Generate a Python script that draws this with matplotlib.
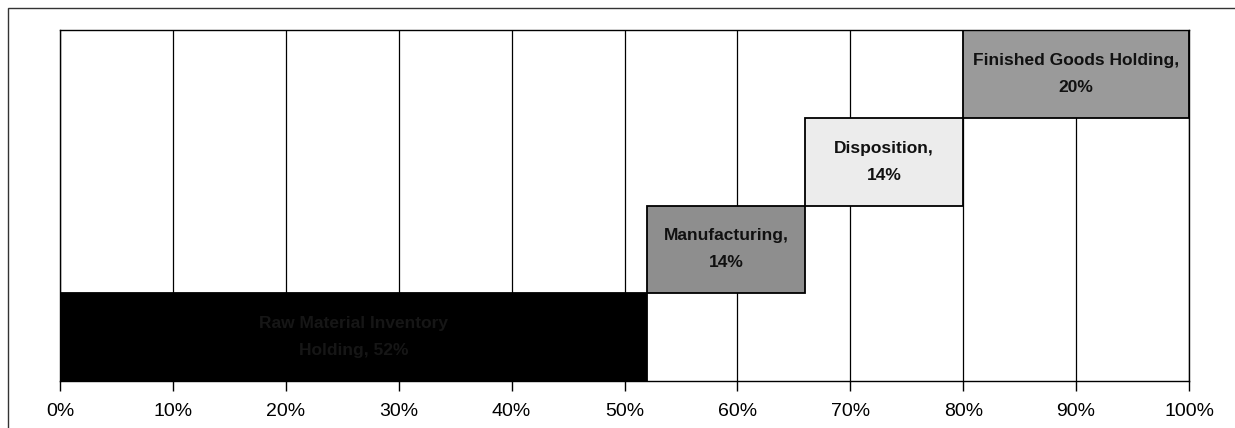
import numpy as np
import matplotlib
matplotlib.use("Agg")
import matplotlib.pyplot as plt
from matplotlib.patches import Rectangle
from matplotlib.ticker import FuncFormatter, MultipleLocator

# Share of total cycle time by stage
stages = ["Raw Material Inventory", "Manufacturing", "Disposition", "Finished Goods Holding"]
label_lines = ["Raw Material Inventory\nHolding, {}%", "Manufacturing,\n{}%",
               "Disposition,\n{}%", "Finished Goods Holding,\n{}%"]
shares = [52, 14, 14, 20]
bar_colors = ["#000000", "#8e8e8e", "#ececec", "#9a9a9a"]
text_colors = ["#161616", "#111111", "#111111", "#111111"]
tick_values = list(range(0, 101, 10))

plt.rcParams["font.family"] = ["Liberation Sans", "DejaVu Sans"]

fig = plt.figure(figsize=(12.35, 4.28), dpi=100)
ax = fig.add_axes([60 / 1235, 1 - 381 / 428, (1189 - 60) / 1235, (381 - 30) / 428])

starts = np.concatenate([[0], np.cumsum(shares)[:-1]])
rows = np.arange(len(stages))

# vertical gridlines behind bars
for v in tick_values:
    ax.axvline(v, color="black", lw=0.9, zorder=0)

ax.barh(rows, shares, left=starts, height=1.0, color=bar_colors,
        edgecolor="black", linewidth=1.3, zorder=2)

for r, s, w, fmt, tc in zip(rows, starts, shares, label_lines, text_colors):
    ax.text(s + w / 2, r, fmt.format(w), ha="center", va="center",
            fontsize=12.5, fontweight="bold", color=tc, linespacing=2.0, zorder=3)

ax.set_xlim(0, 100)
ax.set_ylim(-0.5, len(stages) - 0.5)
ax.set_yticks([])
ax.xaxis.set_major_locator(MultipleLocator(10))
ax.xaxis.set_major_formatter(FuncFormatter(lambda v, p: f"{v:.0f}%"))
ax.tick_params(axis="x", direction="out", length=7, width=1, pad=9, labelsize=14)
for sp in ax.spines.values():
    sp.set_linewidth(1.0)
    sp.set_color("black")

# outer chart border
fig.patches.append(Rectangle((8 / 1235, -0.1), 1.2, 1 - 8 / 428 + 0.1,
                             transform=fig.transFigure, fill=False,
                             edgecolor="#333333", linewidth=1.0))

fig.savefig("out.png", dpi=100, facecolor="white")
